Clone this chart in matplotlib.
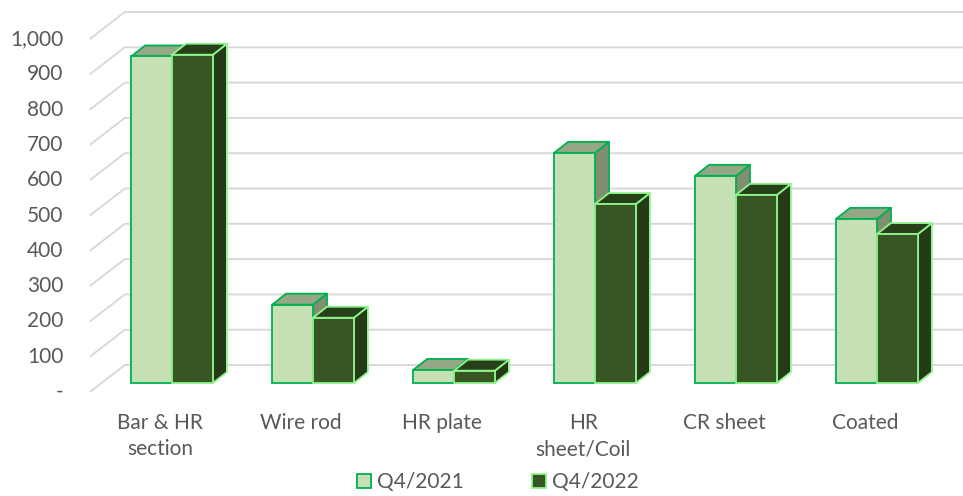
import matplotlib
matplotlib.use("Agg")
import matplotlib.pyplot as plt
from matplotlib.patches import Polygon, Patch
from matplotlib import transforms

categories = ["Bar & HR\nsection", "Wire rod", "HR plate", "HR\nsheet/Coil", "CR sheet", "Coated"]
q4_2021 = [925, 222, 37, 652, 587, 465]
q4_2022 = [930, 185, 35, 507, 533, 422]
series_labels = ["Q4/2021", "Q4/2022"]
yticks = [0, 100, 200, 300, 400, 500, 600, 700, 800, 900, 1000]
ytick_labels = ["-", "100", "200", "300", "400", "500", "600", "700", "800", "900", "1,000"]

# light series, dark series: (front, top, side, edge)
STYLE = [
    ("#c5e0b4", "#94a886", "#808f70", "#00b050"),
    ("#375623", "#27401a", "#253a17", "#8ef58c"),
]
TXT = "#595959"
GRID = "#d9d9d9"
FONT = "Lato"

W, H, DPI = 963, 496, 100
fig = plt.figure(figsize=(W / DPI, H / DPI), dpi=DPI)
ax = fig.add_axes([0, 0, 1, 1])
XL, YL = (-1.22, 5.61), (-320, 1085)
ax.set_xlim(*XL)
ax.set_ylim(*YL)
ax.axis("off")

px_x = W / (XL[1] - XL[0])   # pixels per category unit
px_y = H / (YL[1] - YL[0])   # pixels per value unit

# oblique depth offsets, relative to the plane of the bar fronts
front_dx, front_dy = -11.7 / px_x, -9 / px_y
back_dx, back_dy = 23.3 / px_x, 18 / px_y
bar_dx, bar_dy = 14 / px_x, 11 / px_y
w = 0.29

# back wall gridlines + left diagonals
for v in yticks:
    ax.plot([-0.5 + front_dx, -0.5 + back_dx, XL[1]],
            [v + front_dy, v + back_dy, v + back_dy],
            color=GRID, lw=1.4, zorder=1, solid_capstyle="butt")
    ax.text(0.066, v + front_dy, ytick_labels[yticks.index(v)],
            transform=transforms.blended_transform_factory(fig.transFigure, ax.transData),
            ha="right", va="center", fontsize=15, color=TXT, family=FONT)

for i in range(len(categories)):
    for s, vals in enumerate([q4_2021, q4_2022]):
        front, top, side, edge = STYLE[s]
        x0 = i - w if s == 0 else i
        h = vals[i]
        ax.add_patch(Polygon([(x0 + w, 0), (x0 + w, h), (x0 + w + bar_dx, h + bar_dy),
                              (x0 + w + bar_dx, bar_dy)], closed=True,
                             facecolor=side, edgecolor=edge, lw=1.3, zorder=3,
                             joinstyle="round"))
        ax.add_patch(Polygon([(x0, h), (x0 + w, h), (x0 + w + bar_dx, h + bar_dy),
                              (x0 + bar_dx, h + bar_dy)], closed=True,
                             facecolor=top, edgecolor=edge, lw=1.3, zorder=3,
                             joinstyle="round"))
        ax.bar(x0, h, w, align="edge", color=front, edgecolor=edge, lw=1.3, zorder=3)

# category labels sit on the front plane
lab_tr = transforms.offset_copy(
    transforms.blended_transform_factory(ax.transData, fig.transFigure),
    fig=fig, x=-11.7, y=0, units="dots")
for i, c in enumerate(categories):
    ax.text(i, 1 - 413 / H, c, transform=lab_tr, ha="center", va="top",
            fontsize=15, color=TXT, family=FONT, linespacing=1.4)

handles = [Patch(facecolor=STYLE[k][0], edgecolor=STYLE[k][3], lw=1.3, label=series_labels[k])
           for k in range(2)]
fig.legend(handles=handles, loc="center", bbox_to_anchor=(498 / W, 1 - 482 / H),
           ncol=2, frameon=False, handlelength=0.65, handleheight=0.65,
           handletextpad=0.3, columnspacing=3.3,
           prop={"family": FONT, "size": 15}, labelcolor=TXT)

fig.savefig("out.png", dpi=DPI)
